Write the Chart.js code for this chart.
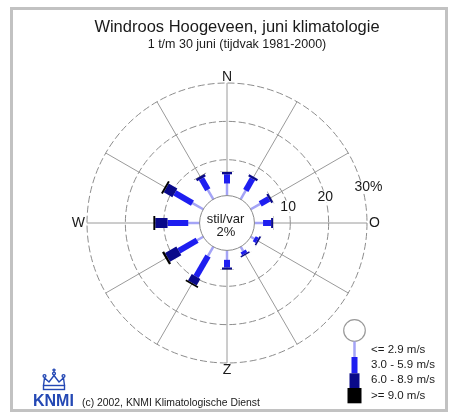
<!DOCTYPE html>
<html><head><meta charset="utf-8">
<script src="https://cdn.jsdelivr.net/npm/chart.js@4.4.1/dist/chart.umd.min.js"></script>
<style>html,body{margin:0;padding:0;background:#fff;} #wrap{position:relative;width:458px;height:414px;} canvas{display:block;}</style>
</head><body><div id="wrap"><canvas id="c" width="458" height="414"></canvas></div>
<script>
// ---- data (percent of time per direction and wind-speed class) ----
const directions = ['N','','','O','','','Z','','','W','',''];   // 0,30,...,330 degrees
const speedClasses = ['<= 2.9 m/s','3.0 - 5.9 m/s','6.0 - 8.9 m/s','>= 9.0 m/s'];
const pctLight = [3.8, 3.3, 3.5, 2.9, 1.7, 1.9, 3.1, 3.4, 2.5, 3.6, 3.9, 3.5];
const pctBlue  = [2.4, 3.5, 2.6, 2.1, 0.9, 0.85, 2.0, 6.2, 5.5, 5.4, 5.3, 3.3];
const pctNavy  = [0.6, 0.6, 0.55, 0.5, 0.4, 0.4, 0.55, 2.0, 3.4, 3.2, 2.6, 0.7];
const pctBlack = [0.05, 0.05, 0.05, 0.05, 0.02, 0.02, 0.05, 0.4, 0.6, 0.5, 0.5, 0.1];
const calmPct = 2;
const ringTicks = [10, 20, 30];
const ringLabels = ['10', '20', '30%'];

// cumulative values for stacking
const classes = [pctLight, pctBlue, pctNavy, pctBlack];
const cumulative = [];
classes.forEach((arr, k) => {
  cumulative.push(arr.map((v, i) => (k ? cumulative[k - 1][i] : 0) + v));
});
const classColors = ['#a4a4f6', '#1e1ef0', '#0a0a8a', '#000000'];
const classWidths = [2.5, 6, 10, 14];
const FONT = "'Liberation Sans', Arial, Helvetica, sans-serif";

const windRose = {
  id: 'windrose',
  afterDatasetsDraw(chart) {
    const ctx = chart.ctx, sc = chart.scales.r;
    const n = chart.data.labels.length;
    // stacked radial bars
    for (let i = 0; i < n; i++) {
      let prev = sc.getPointPositionForValue(i, 0);
      chart.data.datasets.forEach((ds, k) => {
        const el = chart.getDatasetMeta(k).data[i];
        ctx.save();
        ctx.strokeStyle = ds.barColor; ctx.lineWidth = ds.barWidth; ctx.lineCap = 'butt';
        ctx.beginPath(); ctx.moveTo(prev.x, prev.y); ctx.lineTo(el.x, el.y); ctx.stroke();
        ctx.restore();
        prev = {x: el.x, y: el.y};
      });
    }
    // calm circle
    const rc = sc.getDistanceFromCenterForValue(0.65);
    ctx.save();
    ctx.beginPath(); ctx.arc(sc.xCenter, sc.yCenter, rc, 0, Math.PI * 2);
    ctx.fillStyle = '#fff'; ctx.fill();
    ctx.strokeStyle = '#8a8a8a'; ctx.lineWidth = 1; ctx.stroke();
    ctx.fillStyle = '#1a1a1a'; ctx.textAlign = 'center'; ctx.textBaseline = 'middle';
    ctx.font = '13px ' + FONT;
    ctx.fillText('stil/var', sc.xCenter - 1.5, sc.yCenter - 4);
    ctx.fillText(calmPct + '%', sc.xCenter - 1, sc.yCenter + 9.5);
    // ring labels
    ctx.font = '14px ' + FONT;
    ringTicks.forEach((v, j) => {
      const p = sc.getPointPosition(2.5, sc.getDistanceFromCenterForValue(v));
      const txt = ringLabels[j];
      const wNum = ctx.measureText(String(v)).width, w = ctx.measureText(txt).width;
      const cx = p.x + (w - wNum) / 2;
      ctx.fillStyle = '#fff';
      ctx.fillRect(cx - w / 2 - 1, p.y - 6, w + 2, 12);
      ctx.fillStyle = '#1a1a1a';
      ctx.fillText(txt, cx, p.y + 0.5);
    });
    // compass labels
    chart.data.labels.forEach((lab, i) => {
      if (!lab) return;
      const w = ctx.measureText(lab).width;
      const horiz = (i === 3 || i === 9);
      const d = sc.drawingArea + (horiz ? 2 + w / 2 : 6.5);
      const p = sc.getPointPosition(i, d);
      ctx.fillText(lab, p.x, p.y + 0.5);
    });
    ctx.restore();
  },
  afterDraw(chart) {
    const ctx = chart.ctx;
    ctx.save();
    // legend graphic
    ctx.beginPath(); ctx.arc(354.5, 330.5, 10.8, 0, Math.PI * 2);
    ctx.fillStyle = '#fff'; ctx.fill(); ctx.strokeStyle = '#999'; ctx.lineWidth = 1.2; ctx.stroke();
    const segY = [341.5, 357, 373.3, 388, 403.3];
    classColors.forEach((c, k) => {
      ctx.fillStyle = c;
      ctx.fillRect(354.5 - classWidths[k] / 2, segY[k], classWidths[k], segY[k + 1] - segY[k]);
    });
    ctx.fillStyle = '#1a1a1a'; ctx.font = '11.5px ' + FONT;
    ctx.textAlign = 'left'; ctx.textBaseline = 'middle';
    const ly = [349.5, 364.5, 380, 395.5];
    speedClasses.forEach((t, k) => ctx.fillText(t, 371, ly[k]));
    // footer
    ctx.font = '10.4px ' + FONT;
    ctx.fillText('(c) 2002, KNMI Klimatologische Dienst', 82, 403);
    ctx.fillStyle = '#2448b4';
    ctx.font = 'bold 16px ' + FONT; ctx.textBaseline = 'alphabetic';
    ctx.fillText('KNMI', 33, 405.5);
    // crown
    ctx.strokeStyle = '#2448b4'; ctx.lineWidth = 1.4;
    ctx.strokeRect(43.5, 385.5, 21, 4);
    ctx.beginPath();
    ctx.moveTo(43.5, 385.5); ctx.lineTo(44.5, 378); ctx.lineTo(49, 382); ctx.lineTo(54, 375.5);
    ctx.lineTo(59, 382); ctx.lineTo(63.5, 378); ctx.lineTo(64.5, 385.5);
    ctx.stroke();
    [[44.5, 376], [54, 373.5], [63.5, 376]].forEach(([x, y]) => {
      ctx.beginPath(); ctx.arc(x, y, 1.4, 0, Math.PI * 2); ctx.stroke();
    });
    ctx.beginPath(); ctx.moveTo(54, 368.5); ctx.lineTo(54, 372); ctx.moveTo(52.3, 370); ctx.lineTo(55.7, 370); ctx.stroke();
    // frame
    ctx.strokeStyle = '#c2c2c2'; ctx.lineWidth = 3;
    ctx.strokeRect(11.5, 8.5, 435, 402);
    ctx.restore();
  }
};

new Chart(document.getElementById('c'), {
  type: 'radar',
  data: {
    labels: directions,
    datasets: cumulative.map((arr, k) => ({
      label: speedClasses[k], data: arr, showLine: false, fill: false,
      pointRadius: 0, pointHitRadius: 0, borderWidth: 0,
      barColor: classColors[k], barWidth: classWidths[k]
    }))
  },
  plugins: [windRose],
  options: {
    responsive: false, animation: false, devicePixelRatio: 1,
    layout: { padding: { left: 87, right: 71, top: 0, bottom: 51 } },
    plugins: {
      legend: { display: false }, tooltip: { enabled: false },
      title: { display: true, text: 'Windroos Hoogeveen, juni klimatologie', color: '#1a1a1a',
        font: { family: FONT, size: 16.5, weight: 'normal' }, padding: { top: 17.4, bottom: 0 } },
      subtitle: { display: true, text: '1 t/m 30 juni (tijdvak 1981-2000)', color: '#1a1a1a',
        font: { family: FONT, size: 12.5, weight: 'normal' }, padding: { top: 0, bottom: 30.8 } }
    },
    scales: {
      r: {
        min: -6.5, max: 30, startAngle: 0,
        afterBuildTicks(scale) { scale.ticks = [-6.5].concat(ringTicks).map(v => ({ value: v })); },
        grid: { circular: true, lineWidth: 1, borderDash: [7, 3],
          color: c => (c.tick && c.tick.value > 0) ? '#8c8c8c' : 'rgba(0,0,0,0)' },
        border: { dash: [7, 3] },
        angleLines: { display: true, color: '#9a9a9a', lineWidth: 1 },
        ticks: { display: false },
        pointLabels: { display: false }
      },
      pad: {
        type: 'linear', position: 'right', display: true,
        grid: { display: false, drawTicks: false }, ticks: { display: false }, border: { display: false },
        afterFit(s) { s.width = 20; }
      }
    }
  }
});
</script></body></html>
